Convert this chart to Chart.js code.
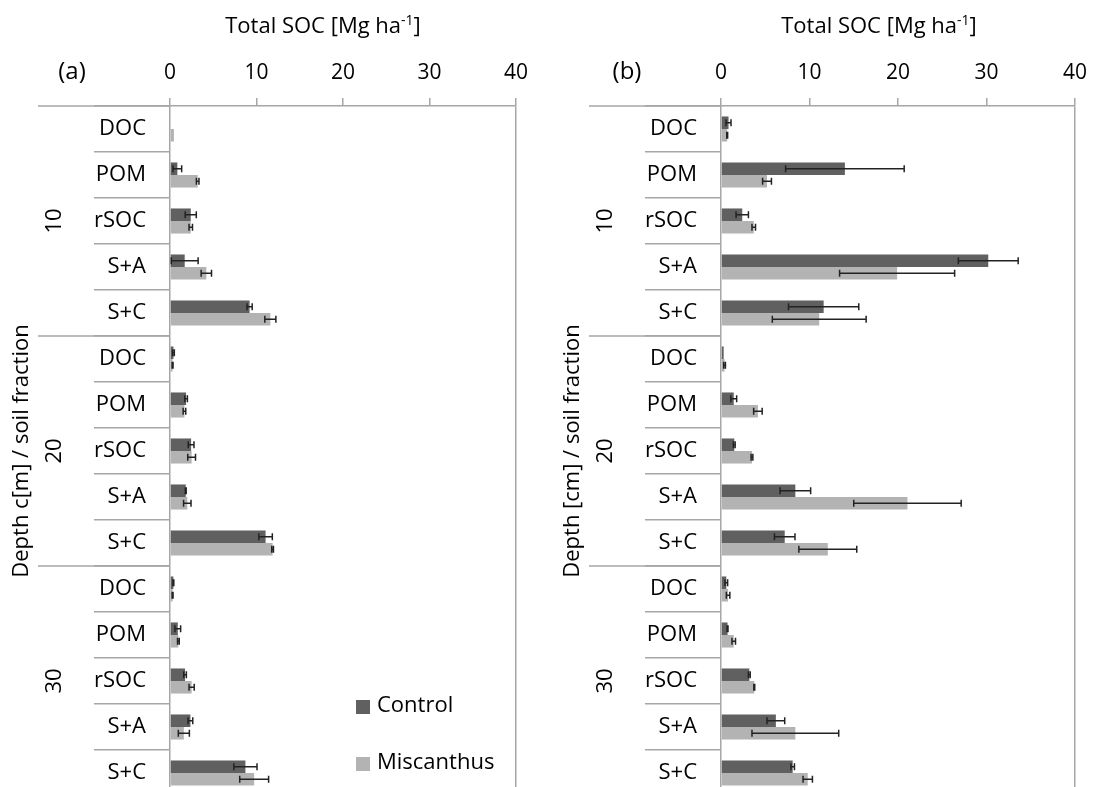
<!DOCTYPE html>
<html>
<head>
<meta charset="utf-8">
<script src="https://cdn.jsdelivr.net/npm/chart.js@4.4.0/dist/chart.umd.min.js"></script>
<style>
html, body { margin: 0; padding: 0; width: 1099px; height: 787px; overflow: hidden; background: #fff; }
#wrapA { position: absolute; left: 0; top: 0; width: 549px; height: 800px; }
#wrapB { position: absolute; left: 551px; top: 0; width: 548px; height: 800px; }
</style>
</head>
<body>
<div id="wrapA"><canvas id="chartA"></canvas></div>
<div id="wrapB"><canvas id="chartB"></canvas></div>
<script>
// soil fractions per depth
const fractions = ['DOC', 'POM', 'rSOC', 'S+A', 'S+C'];
const depths = ['10', '20', '30'];
const labels = depths.flatMap(() => fractions);
const xTicks = [0, 10, 20, 30, 40];

// panel (a)
const controlA    = [0, 0.85, 2.4, 1.7, 9.2,   0.4, 1.86, 2.44, 1.82, 11.05,  0.39, 0.9, 1.74, 2.36, 8.72];
const controlAErr = [0, 0.5, 0.64, 1.55, 0.3,  0.1, 0.15, 0.33, 0.05, 0.78,   0.05, 0.33, 0.15, 0.27, 1.34];
const miscA       = [0.45, 3.2, 2.4, 4.2, 11.6, 0.3, 1.67, 2.5, 2.0, 11.86,   0.3, 0.97, 2.5, 1.6, 9.73];
const miscAErr    = [0, 0.15, 0.2, 0.6, 0.64,  0.05, 0.15, 0.45, 0.43, 0.1,   0.05, 0.1, 0.3, 0.64, 1.67];

// panel (b)
const controlB    = [0.85, 14.0, 2.4, 30.2, 11.6, 0.3, 1.44, 1.5, 8.4, 7.2,   0.6, 0.74, 3.2, 6.2, 8.1];
const controlBErr = [0.28, 6.7, 0.7, 3.38, 3.97, 0, 0.33, 0.1, 1.73, 1.16,    0.15, 0.05, 0.1, 1.0, 0.2];
const miscB       = [0.7, 5.2, 3.7, 19.9, 11.1,  0.4, 4.17, 3.5, 21.07, 12.07, 0.8, 1.44, 3.76, 8.4, 9.8];
const miscBErr    = [0.05, 0.5, 0.2, 6.5, 5.3,   0.1, 0.48, 0.1, 6.07, 3.27,  0.2, 0.2, 0.05, 4.9, 0.53];

const DARK = '#606060';
const LIGHT = '#b3b3b3';
const GRID = '#a6a6a6';
const FAMILY = "'Open Sans', sans-serif";
const FONT = '22px ' + FAMILY;

const errorBars = {
    id: 'errorBars',
    afterDatasetsDraw(chart) {
        const ctx = chart.ctx;
        const x = chart.scales.x;
        ctx.save();
        ctx.strokeStyle = '#222';
        ctx.lineWidth = 1.5;
        chart.data.datasets.forEach((ds, i) => {
            chart.getDatasetMeta(i).data.forEach((bar, j) => {
                const e = ds.errors[j];
                if (!e) return;
                const x1 = x.getPixelForValue(ds.data[j] - e);
                const x2 = x.getPixelForValue(ds.data[j] + e);
                const y = bar.y;
                ctx.beginPath();
                ctx.moveTo(x1, y); ctx.lineTo(x2, y);
                ctx.moveTo(x1, y - 3.5); ctx.lineTo(x1, y + 3.5);
                ctx.moveTo(x2, y - 3.5); ctx.lineTo(x2, y + 3.5);
                ctx.stroke();
            });
        });
        ctx.restore();
    }
};

const decor = {
    id: 'decor',
    afterDraw(chart, args, o) {
        const ctx = chart.ctx;
        const a = chart.chartArea;
        const y = chart.scales.y;
        ctx.save();
        ctx.strokeStyle = GRID;
        ctx.lineWidth = 1.5;
        // top line continues over the label columns
        ctx.beginPath();
        ctx.moveTo(38, a.top); ctx.lineTo(a.left, a.top);
        // depth group dividers
        for (let g = 1; g < depths.length; g++) {
            const yy = (y.getPixelForValue(g * 5 - 1) + y.getPixelForValue(g * 5)) / 2;
            ctx.moveTo(38, yy); ctx.lineTo(a.left, yy);
        }
        ctx.stroke();

        ctx.fillStyle = '#000';
        ctx.font = FONT;
        ctx.textAlign = 'center';
        ctx.textBaseline = 'middle';
        depths.forEach((d, g) => {
            ctx.save();
            ctx.translate(55, y.getPixelForValue(g * 5 + 2));
            ctx.rotate(-Math.PI / 2);
            ctx.fillText(d, 0, 0);
            ctx.restore();
        });
        ctx.save();
        ctx.translate(22, (a.top + a.bottom) / 2);
        ctx.rotate(-Math.PI / 2);
        ctx.fillText(o.yTitle, 0, 0);
        ctx.restore();

        ctx.font = '24px ' + FAMILY;
        ctx.fillText(o.panel, o.panelX, 72);

        // x title with superscript
        const main = 'Total SOC [Mg ha', sup = '-1', end = ']';
        ctx.font = FONT;
        const w1 = ctx.measureText(main).width, w3 = ctx.measureText(end).width;
        ctx.font = '14px ' + FAMILY;
        const w2 = ctx.measureText(sup).width;
        let tx = o.titleX - (w1 + w2 + w3) / 2;
        ctx.textAlign = 'left';
        ctx.font = FONT;
        ctx.fillText(main, tx, 27);
        ctx.font = '14px ' + FAMILY;
        ctx.fillText(sup, tx + w1, 21);
        ctx.font = FONT;
        ctx.fillText(end, tx + w1 + w2, 27);

        if (o.legend) {
            chart.data.datasets.forEach((ds, i) => {
                const ly = 700 + i * 57;
                ctx.fillStyle = ds.backgroundColor;
                ctx.fillRect(356, ly, 14, 14);
                ctx.fillStyle = '#000';
                ctx.fillText(ds.label, 377, ly + 6);
            });
        }
        ctx.restore();
    }
};

function makeChart(id, ctrl, ctrlErr, misc, miscErr, padRight, decorOpts) {
    return new Chart(document.getElementById(id), {
        type: 'bar',
        data: {
            labels: labels,
            datasets: [
                { label: 'Control', data: ctrl, errors: ctrlErr, backgroundColor: DARK },
                { label: 'Miscanthus', data: misc, errors: miscErr, backgroundColor: LIGHT }
            ]
        },
        options: {
            indexAxis: 'y',
            responsive: true,
            maintainAspectRatio: false,
            animation: false,
            devicePixelRatio: 1,
            layout: { padding: { left: 0, right: padRight, top: 0, bottom: 4 } },
            datasets: { bar: { categoryPercentage: 0.545, barPercentage: 1 } },
            plugins: {
                legend: { display: false },
                tooltip: { enabled: false },
                decor: decorOpts
            },
            scales: {
                x: {
                    position: 'top',
                    min: 0,
                    max: 40,
                    afterBuildTicks: s => { s.ticks = xTicks.map(v => ({ value: v })); },
                    afterFit: s => { s.height = 106; },
                    ticks: { font: { size: 21, family: FAMILY }, color: '#000', padding: 12 },
                    grid: {
                        drawOnChartArea: true,
                        color: c => (c.tick && c.tick.value === 40) ? GRID : 'rgba(0,0,0,0)',
                        tickColor: GRID,
                        tickLength: 8,
                        lineWidth: 1.5
                    },
                    border: { color: GRID, width: 1.5 }
                },
                y: {
                    afterFit: s => { s.width = 170; },
                    ticks: {
                        font: { size: 22, family: FAMILY },
                        color: '#000',
                        crossAlign: 'near',
                        padding: -52,
                        autoSkip: false
                    },
                    grid: {
                        offset: true,
                        drawOnChartArea: false,
                        drawTicks: true,
                        tickLength: 76,
                        color: GRID,
                        lineWidth: 1.5
                    },
                    border: { color: GRID, width: 1.5 }
                }
            }
        },
        plugins: [errorBars, decor]
    });
}

makeChart('chartA', controlA, controlAErr, miscA, miscAErr, 33,
    { panel: '(a)', panelX: 72, titleX: 323, yTitle: 'Depth c[m] / soil fraction', legend: true });
makeChart('chartB', controlB, controlBErr, miscB, miscBErr, 16.3,
    { panel: '(b)', panelX: 76, titleX: 328, yTitle: 'Depth [cm] / soil fraction', legend: false });
</script>
</body>
</html>
